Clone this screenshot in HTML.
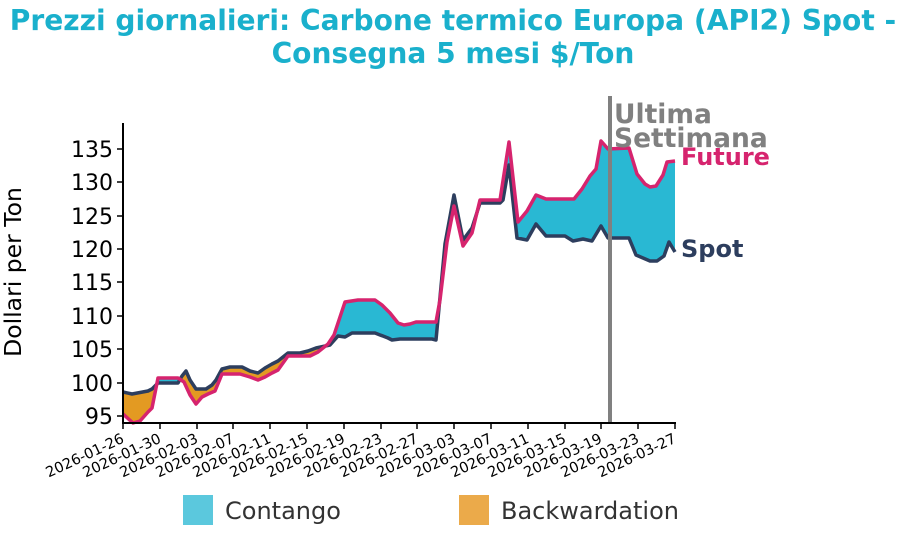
<!DOCTYPE html>
<html><head><meta charset="utf-8"><style>
body{margin:0;background:#fff;}
svg{font-family:"DejaVu Sans","Liberation Sans",sans-serif;}
</style></head><body>
<svg width="899" height="533" viewBox="0 0 899 533" xmlns="http://www.w3.org/2000/svg">
<defs>
<clipPath id="belowF"><polygon points="123,414 133,423 140,421 148,412 152,408 158,378 178,378 184,382 190,395 196,404 202,397 208,394 215,391 222,374 240,374 250,377 258,380 265,377 272,373 278,370 288,356 310,356 318,352 328,344 334,335 345,302 358,300 375,300 382,305 390,313 398,323 404,325 410,324 416,322 436,322 440,300 447,242 454,206 463,246 472,233 480,200 500,200 509,142 518,222 527,211 536,195 546,199 574,199 582,189 590,176 596,169 601,141 608,149 629,148 637,174 645,184 650,187 656,186 663,175 667,162 675,161 675,440 123,440"/></clipPath>
<clipPath id="aboveF"><polygon points="123,414 133,423 140,421 148,412 152,408 158,378 178,378 184,382 190,395 196,404 202,397 208,394 215,391 222,374 240,374 250,377 258,380 265,377 272,373 278,370 288,356 310,356 318,352 328,344 334,335 345,302 358,300 375,300 382,305 390,313 398,323 404,325 410,324 416,322 436,322 440,300 447,242 454,206 463,246 472,233 480,200 500,200 509,142 518,222 527,211 536,195 546,199 574,199 582,189 590,176 596,169 601,141 608,149 629,148 637,174 645,184 650,187 656,186 663,175 667,162 675,161 675,100 123,100"/></clipPath>
</defs>
<text x="453" y="30" text-anchor="middle" font-size="28.1" font-weight="bold" fill="#1ab0cc">Prezzi giornalieri: Carbone termico Europa (API2) Spot -</text>
<text x="453" y="63" text-anchor="middle" font-size="28.1" font-weight="bold" fill="#1ab0cc">Consegna 5 mesi $/Ton</text>
<g clip-path="url(#belowF)">
<polygon fill="#29b8d3" points="123,392 132,394 148,391 152,389 158,383 178,383 182,376 186,371 190,380 196,389 206,389 212,385 216,380 222,369 230,367 242,367 250,371 258,373 265,368 272,364 278,361 288,353 300,353 308,351 316,348 330,345 338,336 345,337 352,333 365,333 375,333 388,338 392,340 400,339 432,339 436,340 445,244 454,195 463,240 472,228 480,203 500,203 503,200 509,165 517,238 527,240 536,224 546,236 565,236 573,241 583,239 592,241 601,226 608,238 629,238 636,255 650,261 657,261 664,256 669,242 675,252 675,100 123,100"/>
</g>
<g clip-path="url(#aboveF)">
<polygon fill="#e39a22" points="123,392 132,394 148,391 152,389 158,383 178,383 182,376 186,371 190,380 196,389 206,389 212,385 216,380 222,369 230,367 242,367 250,371 258,373 265,368 272,364 278,361 288,353 300,353 308,351 316,348 330,345 338,336 345,337 352,333 365,333 375,333 388,338 392,340 400,339 432,339 436,340 445,244 454,195 463,240 472,228 480,203 500,203 503,200 509,165 517,238 527,240 536,224 546,236 565,236 573,241 583,239 592,241 601,226 608,238 629,238 636,255 650,261 657,261 664,256 669,242 675,252 675,440 123,440"/>
</g>
<polyline fill="none" stroke="#2d3e5e" stroke-width="3.5" stroke-linejoin="round" points="123,392 132,394 148,391 152,389 158,383 178,383 182,376 186,371 190,380 196,389 206,389 212,385 216,380 222,369 230,367 242,367 250,371 258,373 265,368 272,364 278,361 288,353 300,353 308,351 316,348 330,345 338,336 345,337 352,333 365,333 375,333 388,338 392,340 400,339 432,339 436,340 445,244 454,195 463,240 472,228 480,203 500,203 503,200 509,165 517,238 527,240 536,224 546,236 565,236 573,241 583,239 592,241 601,226 608,238 629,238 636,255 650,261 657,261 664,256 669,242 675,252"/>
<polyline fill="none" stroke="#d6246e" stroke-width="3.5" stroke-linejoin="round" points="123,414 133,423 140,421 148,412 152,408 158,378 178,378 184,382 190,395 196,404 202,397 208,394 215,391 222,374 240,374 250,377 258,380 265,377 272,373 278,370 288,356 310,356 318,352 328,344 334,335 345,302 358,300 375,300 382,305 390,313 398,323 404,325 410,324 416,322 436,322 440,300 447,242 454,206 463,246 472,233 480,200 500,200 509,142 518,222 527,211 536,195 546,199 574,199 582,189 590,176 596,169 601,141 608,149 629,148 637,174 645,184 650,187 656,186 663,175 667,162 675,161"/>
<line x1="610" y1="96" x2="610" y2="423" stroke="#808080" stroke-width="4"/>
<text x="614" y="123" font-size="26.5" font-weight="bold" fill="#808080">Ultima</text>
<text x="614" y="147" font-size="26.5" font-weight="bold" fill="#808080">Settimana</text>
<text x="681" y="165" font-size="24" font-weight="bold" fill="#d6246e">Future</text>
<text x="681" y="257" font-size="24" font-weight="bold" fill="#2d3e5e">Spot</text>
<g stroke="#000" stroke-width="2">
<line x1="123" y1="123" x2="123" y2="424"/>
<line x1="122" y1="423" x2="676" y2="423"/>
</g>
<g stroke="#000" stroke-width="1.5">
<line x1="117" y1="416" x2="123" y2="416"/><line x1="117" y1="383" x2="123" y2="383"/><line x1="117" y1="349" x2="123" y2="349"/><line x1="117" y1="316" x2="123" y2="316"/><line x1="117" y1="282" x2="123" y2="282"/><line x1="117" y1="249" x2="123" y2="249"/><line x1="117" y1="216" x2="123" y2="216"/><line x1="117" y1="182" x2="123" y2="182"/><line x1="117" y1="149" x2="123" y2="149"/>
</g>
<g font-size="22" text-anchor="end" fill="#000">
<text x="113" y="424">95</text><text x="113" y="391">100</text><text x="113" y="357">105</text><text x="113" y="324">110</text><text x="113" y="290">115</text><text x="113" y="257">120</text><text x="113" y="224">125</text><text x="113" y="190">130</text><text x="113" y="157">135</text>
</g>
<text transform="translate(21,272) rotate(-90)" text-anchor="middle" font-size="23.5" fill="#000">Dollari per Ton</text>
<g stroke="#000" stroke-width="1.5">
<line x1="123" y1="423" x2="123" y2="429"/><line x1="160" y1="423" x2="160" y2="429"/><line x1="197" y1="423" x2="197" y2="429"/><line x1="233" y1="423" x2="233" y2="429"/><line x1="270" y1="423" x2="270" y2="429"/><line x1="307" y1="423" x2="307" y2="429"/><line x1="344" y1="423" x2="344" y2="429"/><line x1="381" y1="423" x2="381" y2="429"/><line x1="417" y1="423" x2="417" y2="429"/><line x1="454" y1="423" x2="454" y2="429"/><line x1="491" y1="423" x2="491" y2="429"/><line x1="528" y1="423" x2="528" y2="429"/><line x1="565" y1="423" x2="565" y2="429"/><line x1="601" y1="423" x2="601" y2="429"/><line x1="638" y1="423" x2="638" y2="429"/><line x1="675" y1="423" x2="675" y2="429"/>
</g>
<g font-size="14.5" text-anchor="end" fill="#000">
<text transform="translate(125,442) rotate(-25)">2026-01-26</text>
<text transform="translate(162,442) rotate(-25)">2026-01-30</text>
<text transform="translate(199,442) rotate(-25)">2026-02-03</text>
<text transform="translate(235,442) rotate(-25)">2026-02-07</text>
<text transform="translate(272,442) rotate(-25)">2026-02-11</text>
<text transform="translate(309,442) rotate(-25)">2026-02-15</text>
<text transform="translate(346,442) rotate(-25)">2026-02-19</text>
<text transform="translate(383,442) rotate(-25)">2026-02-23</text>
<text transform="translate(419,442) rotate(-25)">2026-02-27</text>
<text transform="translate(456,442) rotate(-25)">2026-03-03</text>
<text transform="translate(493,442) rotate(-25)">2026-03-07</text>
<text transform="translate(530,442) rotate(-25)">2026-03-11</text>
<text transform="translate(567,442) rotate(-25)">2026-03-15</text>
<text transform="translate(603,442) rotate(-25)">2026-03-19</text>
<text transform="translate(640,442) rotate(-25)">2026-03-23</text>
<text transform="translate(677,442) rotate(-25)">2026-03-27</text>
</g>
<rect x="183" y="495" width="30" height="30" fill="#5bc8dd"/>
<text x="225" y="519" font-size="24" fill="#333">Contango</text>
<rect x="459" y="495" width="30" height="30" fill="#ebaa4a"/>
<text x="501" y="519" font-size="24" fill="#333">Backwardation</text>
</svg>
</body></html>
